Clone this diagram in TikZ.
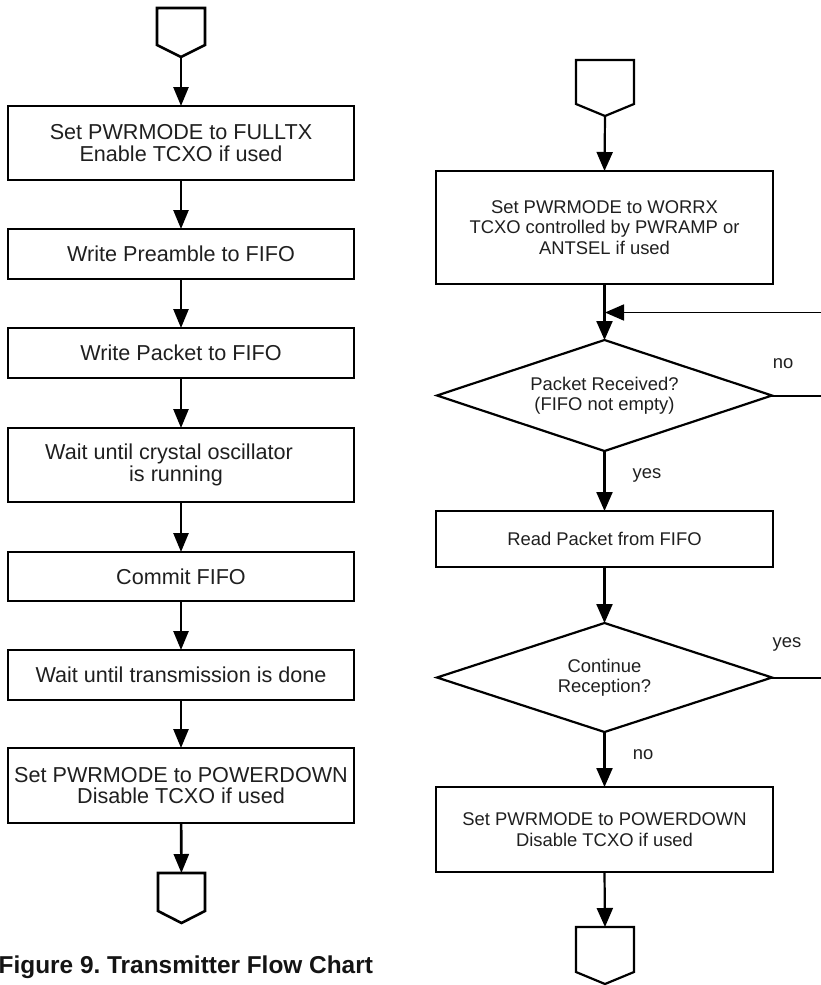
\documentclass[tikz,border=0pt]{standalone}
\usepackage{fontspec}
\setmainfont{Liberation Sans}
\usetikzlibrary{arrows.meta,calc}
\newcommand\drawpent[2]{\draw[line width=#2] (#1.north west) -- (#1.north east) -- ([yshift=12bp]#1.south east) -- (#1.south) -- ([yshift=12bp]#1.south west) -- cycle;}
\newcommand\drawdiam[1]{\draw[line width=2.2bp] (#1.north) -- (#1.east) -- (#1.south) -- (#1.west) -- cycle;}
\begin{document}
\frenchspacing
\begin{tikzpicture}[x=1bp,y=-1bp,
  lbox/.style={draw, line width=2.6bp, minimum width=346bp, inner sep=0pt, outer sep=0pt, align=center, font=\fontsize{21.6bp}{21.5bp}\selectfont, text=black!88},
  rbox/.style={draw, line width=2.2bp, minimum width=337bp, inner sep=0pt, outer sep=0pt, align=center, font=\fontsize{18.4bp}{20.5bp}\selectfont, text=black!88},
  dec/.style={rectangle, minimum width=335bp, inner sep=0pt, outer sep=0pt, align=center, font=\fontsize{18.4bp}{20.5bp}\selectfont, text=black!88},
  term/.style={rectangle, inner sep=0pt, outer sep=0pt},
  larr/.style={-{Triangle[length=19bp,width=15bp]}, line width=2.6bp},
  rarr/.style={-{Triangle[length=19bp,width=16bp]}, line width=2.2bp},
  lab/.style={font=\fontsize{18.4bp}{20bp}\selectfont, text=black!88, inner sep=0pt}
]
\useasboundingbox (0,0) rectangle (821,985);
% ---------- left column ----------
\node[term, minimum width=48bp, minimum height=49bp] (ls) at (181,32.5) {};
\drawpent{ls}{2.6bp}
\node[lbox, minimum height=74bp] (l1) at (181,143) {Set PWRMODE to FULLTX\\Enable TCXO if used};
\node[lbox, minimum height=50bp] (l2) at (181,254) {Write Preamble to FIFO};
\node[lbox, minimum height=50bp] (l3) at (181,353) {Write Packet to FIFO};
\node[lbox, minimum height=74bp] (l4) at (181,465) {Wait until crystal oscillator\hspace*{24bp}\\is running\hspace*{10bp}};
\node[lbox, minimum height=49bp] (l5) at (181,576.5) {Commit FIFO};
\node[lbox, minimum height=50bp] (l6) at (181,675) {Wait until transmission is done};
\node[lbox, minimum height=75bp] (l7) at (181,785.5) {Set PWRMODE to POWERDOWN\\Disable TCXO if used};
\node[term, minimum width=47bp, minimum height=50bp] (le) at (181.5,898) {};
\drawpent{le}{2.6bp}
\draw[larr] (ls) -- (l1);
\draw[larr] (l1) -- (l2);
\draw[larr] (l2) -- (l3);
\draw[larr] (l3) -- (l4);
\draw[larr] (l4) -- (l5);
\draw[larr] (l5) -- (l6);
\draw[larr] (l6) -- (l7);
\draw[larr] (l7) -- (le);
\node[anchor=base west, inner sep=0pt, font=\fontsize{24.4bp}{24bp}\selectfont\bfseries, text=black!92] (cap) at (-1.5,973) {Figure 9. Transmitter Flow Chart};
% ---------- right column ----------
\node[term, minimum width=58bp, minimum height=56bp] (rs) at (605,88) {};
\drawpent{rs}{2.2bp}
\node[rbox, minimum height=113bp] (r1) at (604.5,227.5) {Set PWRMODE to WORRX\\TCXO controlled by PWRAMP or\\ANTSEL if used};
\node[dec, minimum height=111bp] (d1) at (604.5,395.5) {Packet Received?\\(FIFO not empty)};
\drawdiam{d1}
\node[rbox, minimum height=56bp] (r2) at (604.5,539) {Read Packet from FIFO};
\node[dec, minimum height=109bp] (d2) at (604.5,677.5) {Continue\\Reception?};
\drawdiam{d2}
\node[rbox, minimum height=85bp] (r3) at (604.5,829.5) {Set PWRMODE to POWERDOWN\\Disable TCXO if used};
\node[term, minimum width=58bp, minimum height=57bp] (re) at (605,955.5) {};
\drawpent{re}{2.2bp}
\coordinate (loopR) at (823,312.5);
\coordinate (loopL) at (605,312.5);
\coordinate (d1R) at (823,395.5);
\coordinate (d2R) at (823,677.5);
\draw[rarr] (rs.south) -- (r1.north);
\draw[rarr] (r1.south) -- (d1.north);
\draw[rarr, line width=1.8bp] (loopR) -- (loopL);
\draw[line width=2bp] (d1.east) -- (d1R);
\draw[rarr] (d1.south) -- (r2.north);
\draw[rarr] (r2.south) -- (d2.north);
\draw[line width=2bp] (d2.east) -- (d2R);
\draw[rarr] (d2.south) -- (r3.north);
\draw[rarr] (r3.south) -- (re.north);
\node[lab] (no1) at (783,364) {no};
\node[lab] (yes1) at (647,475) {yes};
\node[lab] (yes2) at (787,644) {yes};
\node[lab] (no2) at (643,755) {no};
\end{tikzpicture}
\end{document}
